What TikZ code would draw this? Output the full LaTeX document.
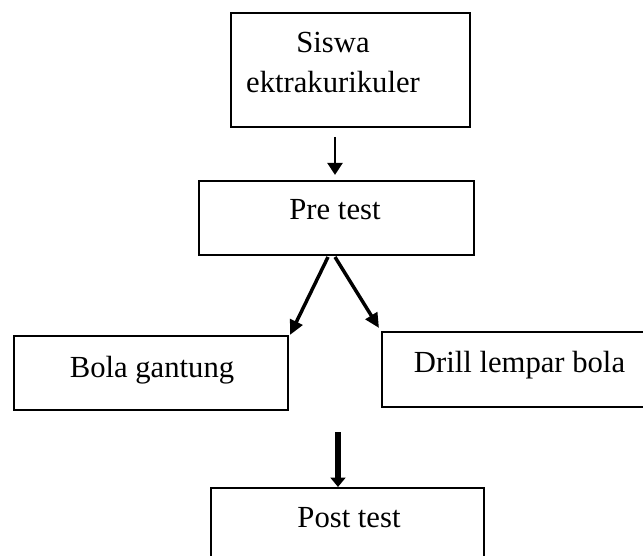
\documentclass[tikz,border=0pt]{standalone}
\usepackage{fontspec}
\setmainfont{Liberation Serif}
\usetikzlibrary{arrows.meta}
\begin{document}
\begin{tikzpicture}[x=0.75pt,y=-0.75pt,
  box/.style={draw=black,line width=1.7pt,inner sep=0pt,rectangle},
  lbl/.style={font=\fontsize{23}{28}\selectfont,inner sep=0pt,anchor=base},
  arr/.style={line width=2.2pt,-{Triangle[length=9pt,width=11pt]}}]
\useasboundingbox (0,0) rectangle (643,556);
\clip (0,0) rectangle (643,556);
\fill[white] (0,0) rectangle (643,556);
% boxes
\node[box,minimum width=179.25pt,minimum height=85.5pt] (b1) at (350.5,70) {};
\node[box,minimum width=206.25pt,minimum height=55.5pt] (b2) at (336.5,218) {};
\node[box,minimum width=205.5pt,minimum height=55.5pt] (b3) at (151,373) {};
\node[box,minimum width=252pt,minimum height=56.25pt] (b4) at (550,369.5) {};
\node[box,minimum width=204.75pt,minimum height=90pt] (b5) at (347.5,548) {};
% texts
\node[lbl] (t1a) at (333,53) {Siswa};
\node[lbl] (t1b) at (333,93) {ektrakurikuler};
\node[lbl] (t2) at (335,220) {Pre test};
\node[lbl] (t3) at (152,377) {Bola gantung};
\node[lbl] (t4) at (519.5,372) {Drill lempar bola};
\node[lbl] (t5) at (349,527) {Post test};
% connector end points
\coordinate (a1s) at (335,137);
\coordinate (a1e) at (335,175);
\coordinate (a2s) at (328,257);
\coordinate (a2e) at (290,335);
\coordinate (a3s) at (335,257);
\coordinate (a3e) at (379,328);
\coordinate (a5s) at (338,432);
\coordinate (a5e) at (338,487);
\draw[arr] (a1s) -- (a1e);
\draw[arr,line width=2.6pt,-{Triangle[length=11pt,width=10pt]}] (a2s) -- (a2e);
\draw[arr,line width=2.6pt,-{Triangle[length=11pt,width=10pt]}] (a3s) -- (a3e);
\draw[arr,line width=4pt,-{Triangle[length=7pt,width=11pt]}] (a5s) -- (a5e);
\end{tikzpicture}
\end{document}
